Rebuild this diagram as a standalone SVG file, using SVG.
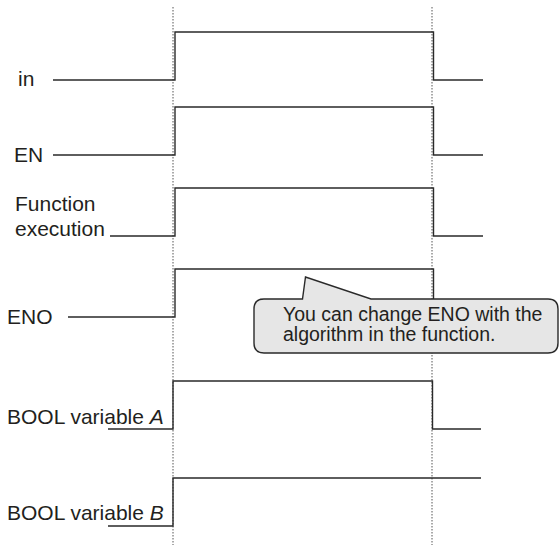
<svg xmlns="http://www.w3.org/2000/svg" width="559" height="545" viewBox="0 0 559 545">
<style>
.sig{fill:none;stroke:#2a2a2a;stroke-width:1.4}
.guide{fill:none;stroke:#555;stroke-width:1;stroke-dasharray:1.5,1.5}
.lbl{font-family:"Liberation Sans",Arial,sans-serif;font-size:21px;fill:#231f20}
.note{font-family:"Liberation Sans",Arial,sans-serif;font-size:19.5px;fill:#231f20}
</style>
<rect width="559" height="545" fill="#fff"/>
<g id="guides">
<line class="guide" x1="173" y1="7" x2="173" y2="545"/>
<line class="guide" x1="432" y1="7" x2="432" y2="545"/>
</g>
<g id="connectors">
<polyline id="sig-in" class="sig" points="53,80 175,80 175,32 433.5,32 433.5,80 483,80"/>
<polyline id="sig-en" class="sig" points="53,155 175,155 175,107 433.5,107 433.5,155 483,155"/>
<polyline id="sig-fx" class="sig" points="110,236 175,236 175,188 433.5,188 433.5,236 483,236"/>
<polyline id="sig-eno" class="sig" points="68,317 175,317 175,269 433.5,269 433.5,317"/>
<polyline id="sig-a" class="sig" points="108,429 173,429 173,381 432.5,381 432.5,429 481,429"/>
<polyline id="sig-b" class="sig" points="108,526 173,526 173,478 481,478"/>
</g>
<g id="label-in"><text class="lbl" x="18" y="86">in</text></g>
<g id="label-en"><text class="lbl" x="14" y="161.5">EN</text></g>
<g id="label-fx"><text class="lbl" x="15" y="211">Function</text><text class="lbl" x="15" y="236">execution</text></g>
<g id="label-eno"><text class="lbl" x="7" y="323.5">ENO</text></g>
<g id="label-a"><text class="lbl" x="7" y="424">BOOL variable <tspan font-style="italic">A</tspan></text></g>
<g id="label-b"><text class="lbl" x="7" y="520">BOOL variable <tspan font-style="italic">B</tspan></text></g>
<g id="callout">
<path d="M264,299 L302.5,299 L305.5,277 L371,299 L548,299 Q558,299 558,309 L558,343 Q558,353 548,353 L264,353 Q254,353 254,343 L254,309 Q254,299 264,299 Z" fill="#e6e6e6" stroke="#2a2a2a" stroke-width="1.4"/>
<text class="note" x="283" y="320.5">You can change ENO with the</text>
<text class="note" x="283" y="340.5">algorithm in the function.</text>
</g>
</svg>
